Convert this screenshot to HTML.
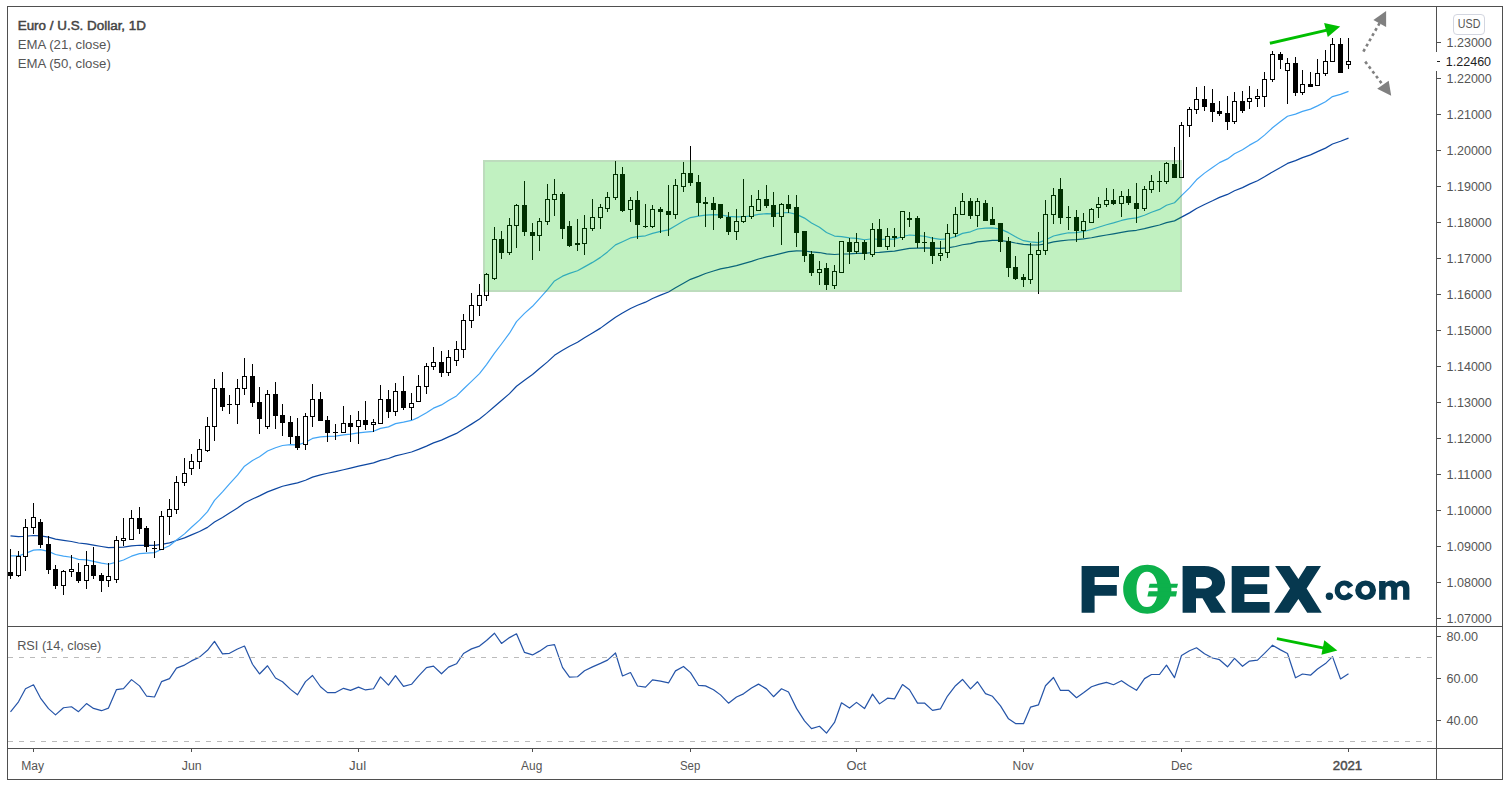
<!DOCTYPE html>
<html><head><meta charset="utf-8">
<style>
html,body{margin:0;padding:0;background:#fff;}
body{width:1510px;height:785px;overflow:hidden;position:relative;}
svg{position:absolute;left:0;top:0;}
text{font-family:"Liberation Sans",sans-serif;}
.ax{font-size:12px;fill:#555;}
.tm{font-size:12px;fill:#555;}
.tmb{font-size:12px;fill:#4a4a4a;stroke:#4a4a4a;stroke-width:0.45;}
.lg{font-size:12px;fill:#555;}
</style></head><body>
<svg width="1510" height="785" viewBox="0 0 1510 785" shape-rendering="crispEdges">
<rect x="0" y="0" width="1510" height="785" fill="#fff"/>
<!-- logo -->
<g id="logo" shape-rendering="geometricPrecision">
 <g fill="#06384f">
  <path d="M1081.6 566.1H1119V577H1094.6V585H1116.8V595.8H1094.6V612.7H1081.6Z"/>
  <path d="M1182.6 566.1H1204C1217 566.1 1225 573 1225 582.6C1225 589.5 1221.5 594.5 1215.5 597L1226 612.7H1211L1202.5 598.2H1196V612.7H1182.6ZM1196 577V588.6H1203.5C1209 588.6 1212 586 1212 582.8C1212 579.5 1209 577 1203.5 577Z"/>
  <path d="M1231.7 566.1H1269.3V577H1244.4V584.2H1267.2V594.1H1244.4V601.9H1269.6V612.7H1231.7Z"/>
  <path d="M1275.1 566.1H1289.6L1298.4 579L1306.6 566.1H1321L1306.6 588.6L1321.8 612.7H1307.2L1298.4 599L1289 612.7H1274.2L1290 588.6Z"/>
  <circle cx="1329.4" cy="596.2" r="3.7"/>
  <path d="M1353.2 585.6A9.9 9.8 0 1 0 1353.2 595.2L1348.1 592.3A4.3 4.8 0 1 1 1348.1 588.4Z"/>
  <path fill-rule="evenodd" d="M1365.6 580.5A10.4 9.8 0 1 1 1365.6 600.1A10.4 9.8 0 1 1 1365.6 580.5ZM1365.6 585.7A4.3 4.6 0 1 0 1365.6 594.9A4.3 4.6 0 1 0 1365.6 585.7Z"/>
  <path d="M1379.1 580.9H1385.5V583C1386.8 581.5 1388.8 580.5 1391 580.5C1393.5 580.5 1395.3 581.6 1396.3 583.2C1397.8 581.5 1400 580.5 1402.6 580.5C1407 580.5 1409.4 583.5 1409.4 588V599.8H1403.1V589C1403.1 586.9 1402.2 585.9 1400.3 585.9C1398.3 585.9 1397.2 587.2 1397.2 589.2V599.8H1391.2V589C1391.2 586.9 1390.3 585.9 1388.4 585.9C1386.4 585.9 1385.5 587.2 1385.5 589.2V599.8H1379.1Z"/>
 </g>
 <g fill="#0db14b">
  <path fill-rule="evenodd" d="M1147.3 564.8C1161 564.8 1171.4 575.8 1171.4 589.3C1171.4 602.8 1161 613.8 1147.3 613.8C1133.6 613.8 1123.2 602.8 1123.2 589.3C1123.2 575.8 1133.6 564.8 1147.3 564.8ZM1147 571.7C1140.5 571.7 1136.5 579 1136.5 589.4C1136.5 599.8 1140.5 607.1 1147 607.1C1153.5 607.1 1157.6 599.8 1157.6 589.4C1157.6 579 1153.5 571.7 1147 571.7Z"/>
  <path d="M1149.6 583.8H1178L1177 587.8H1148.6Z"/>
  <path d="M1148.6 591.3H1177L1176 596.6H1147.4Z"/>
 </g>
</g>
<g shape-rendering="geometricPrecision" fill="none" stroke-linejoin="round">
<polyline points="10.5,535.80 18.5,536.60 25.5,536.24 33.5,535.51 40.5,535.86 48.5,537.18 55.5,539.09 63.5,540.35 71.5,541.48 78.5,543.02 86.5,543.89 93.5,545.13 101.5,546.52 108.5,547.69 116.5,547.41 123.5,547.05 131.5,545.92 139.5,545.25 146.5,545.31 154.5,545.43 161.5,544.29 169.5,542.92 176.5,540.54 184.5,537.91 191.5,534.89 199.5,531.54 207.5,527.40 214.5,521.94 222.5,517.42 229.5,512.98 237.5,508.09 244.5,502.92 252.5,499.00 259.5,495.85 267.5,491.87 275.5,488.88 282.5,486.28 290.5,484.35 297.5,482.90 305.5,480.28 312.5,477.11 320.5,474.90 327.5,473.24 335.5,471.64 343.5,469.74 350.5,468.05 358.5,466.18 365.5,464.55 373.5,462.91 380.5,460.42 388.5,458.49 395.5,455.86 403.5,453.96 411.5,451.97 418.5,449.41 426.5,446.15 433.5,442.87 441.5,440.11 448.5,436.86 456.5,433.42 463.5,428.99 471.5,424.13 479.5,419.08 486.5,413.39 494.5,406.57 501.5,400.53 509.5,393.66 516.5,386.27 524.5,380.21 532.5,374.53 539.5,368.52 547.5,361.88 554.5,355.32 562.5,350.34 569.5,346.23 577.5,342.24 584.5,337.78 592.5,333.06 600.5,328.12 607.5,322.99 615.5,317.15 622.5,312.95 630.5,308.54 637.5,305.25 645.5,302.17 652.5,298.53 660.5,295.12 668.5,291.95 675.5,287.77 683.5,283.29 690.5,279.33 698.5,276.33 705.5,273.47 713.5,270.96 720.5,268.88 728.5,267.42 736.5,265.62 743.5,263.68 751.5,261.42 758.5,258.99 766.5,256.90 773.5,255.32 781.5,253.31 788.5,251.55 796.5,250.81 804.5,251.00 811.5,251.84 819.5,252.53 826.5,253.80 834.5,254.49 841.5,253.99 849.5,253.90 856.5,253.46 864.5,253.46 872.5,252.51 879.5,252.28 887.5,251.66 894.5,251.11 902.5,249.54 909.5,248.36 917.5,248.13 924.5,247.90 932.5,248.21 940.5,248.41 947.5,247.82 955.5,246.50 962.5,244.73 970.5,243.58 977.5,241.93 985.5,241.07 992.5,240.43 1000.5,240.47 1008.5,241.54 1015.5,243.00 1023.5,244.41 1030.5,244.79 1038.5,245.00 1045.5,243.80 1053.5,241.90 1060.5,240.94 1068.5,240.02 1076.5,239.65 1083.5,238.92 1091.5,237.75 1098.5,236.45 1106.5,235.03 1113.5,233.80 1121.5,232.33 1128.5,231.16 1136.5,230.28 1144.5,228.67 1151.5,226.81 1159.5,225.03 1166.5,222.62 1174.5,220.86 1181.5,217.10 1189.5,212.88 1196.5,208.43 1204.5,204.43 1212.5,200.79 1219.5,197.37 1227.5,194.41 1234.5,190.76 1242.5,187.63 1249.5,184.13 1257.5,180.69 1264.5,176.71 1272.5,171.92 1280.5,167.51 1287.5,163.43 1295.5,160.64 1302.5,157.66 1310.5,154.85 1317.5,151.65 1325.5,148.11 1332.5,144.04 1340.5,141.24 1348.5,138.11" stroke="#0d47a1" stroke-width="1.2"/>
<polyline points="10.5,555.90 18.5,555.94 25.5,553.34 33.5,550.08 40.5,549.58 48.5,551.40 55.5,554.52 63.5,556.04 71.5,557.24 78.5,559.36 86.5,559.89 93.5,561.33 101.5,563.08 108.5,564.27 116.5,562.11 123.5,559.96 131.5,556.17 139.5,553.67 146.5,553.04 154.5,552.63 161.5,549.33 169.5,545.69 176.5,539.92 184.5,533.87 191.5,527.25 199.5,520.17 207.5,511.62 214.5,500.40 222.5,491.87 229.5,483.91 237.5,475.21 244.5,466.22 252.5,460.45 259.5,456.67 267.5,451.00 275.5,447.79 282.5,445.50 290.5,444.72 297.5,444.97 305.5,442.35 312.5,438.44 320.5,436.83 327.5,436.44 335.5,436.08 343.5,434.91 350.5,434.17 358.5,432.91 365.5,432.16 373.5,431.28 380.5,428.38 388.5,426.83 395.5,423.61 403.5,422.15 411.5,420.43 418.5,417.35 426.5,412.72 433.5,408.15 441.5,404.91 448.5,400.58 456.5,395.90 463.5,389.03 471.5,381.40 479.5,373.57 486.5,364.53 494.5,353.16 501.5,344.00 509.5,333.23 516.5,321.59 524.5,313.41 532.5,306.32 539.5,298.59 547.5,289.56 554.5,280.92 562.5,276.16 569.5,273.35 577.5,270.74 584.5,266.90 592.5,262.39 600.5,257.37 607.5,251.92 615.5,244.84 622.5,241.68 630.5,237.92 637.5,236.71 645.5,235.80 652.5,233.40 660.5,231.41 668.5,229.86 675.5,225.82 683.5,221.06 690.5,217.55 698.5,216.19 705.5,215.04 713.5,214.54 720.5,214.84 728.5,216.37 736.5,216.83 743.5,216.77 751.5,215.81 758.5,214.32 766.5,213.54 773.5,213.81 781.5,212.92 788.5,212.52 796.5,214.35 804.5,218.10 811.5,223.04 819.5,227.27 826.5,232.50 834.5,236.03 841.5,236.57 849.5,237.94 856.5,238.36 864.5,239.74 872.5,238.77 879.5,239.49 887.5,239.21 894.5,239.08 902.5,236.53 909.5,234.98 917.5,235.67 924.5,236.27 932.5,238.04 940.5,239.43 947.5,238.87 955.5,236.63 962.5,233.41 970.5,231.79 977.5,229.02 985.5,228.22 992.5,227.89 1000.5,229.12 1008.5,232.64 1015.5,236.83 1023.5,240.67 1030.5,241.89 1038.5,242.64 1045.5,240.08 1053.5,236.00 1060.5,234.32 1068.5,232.78 1076.5,232.58 1083.5,231.53 1091.5,229.50 1098.5,227.22 1106.5,224.77 1113.5,222.85 1121.5,220.45 1128.5,218.82 1136.5,217.90 1144.5,215.28 1151.5,212.20 1159.5,209.40 1166.5,205.23 1174.5,202.72 1181.5,195.65 1189.5,187.82 1196.5,179.78 1204.5,173.13 1212.5,167.54 1219.5,162.63 1227.5,158.91 1234.5,153.69 1242.5,149.79 1249.5,145.13 1257.5,140.69 1264.5,135.11 1272.5,127.78 1280.5,121.57 1287.5,116.29 1295.5,114.11 1302.5,111.42 1310.5,109.11 1317.5,105.86 1325.5,101.81 1332.5,96.59 1340.5,94.41 1348.5,91.40" stroke="#42a5f5" stroke-width="1.2"/>
<polyline points="10.5,711.80 18.5,701.77 25.5,688.82 33.5,684.79 40.5,698.05 48.5,708.67 55.5,714.84 63.5,707.77 71.5,706.74 78.5,711.67 86.5,703.61 93.5,708.44 101.5,710.69 108.5,708.10 116.5,689.56 123.5,688.59 131.5,679.60 139.5,685.88 146.5,696.03 154.5,697.02 161.5,681.64 169.5,678.64 176.5,668.18 184.5,665.10 191.5,660.90 199.5,657.14 207.5,650.30 214.5,641.33 222.5,653.90 229.5,653.28 237.5,649.03 244.5,646.07 252.5,664.24 259.5,673.97 267.5,665.77 275.5,677.98 282.5,681.73 290.5,689.35 297.5,694.78 305.5,681.59 312.5,675.49 320.5,686.76 327.5,692.63 335.5,692.55 343.5,688.33 350.5,690.38 358.5,687.17 365.5,689.95 373.5,688.74 380.5,676.93 388.5,685.18 395.5,675.67 403.5,686.40 411.5,684.29 418.5,676.19 426.5,667.68 433.5,666.12 441.5,673.77 448.5,667.16 456.5,663.80 463.5,653.47 471.5,648.87 479.5,646.07 486.5,640.54 494.5,633.22 501.5,643.41 509.5,637.60 516.5,633.81 524.5,652.41 532.5,654.94 539.5,651.15 547.5,645.75 554.5,644.62 562.5,667.38 569.5,677.03 577.5,676.76 584.5,670.78 592.5,666.84 600.5,663.38 607.5,660.10 615.5,652.96 622.5,675.99 630.5,672.56 637.5,686.03 645.5,687.15 652.5,679.94 660.5,681.19 668.5,682.94 675.5,670.87 683.5,666.43 690.5,672.61 698.5,685.29 705.5,685.84 713.5,689.70 720.5,694.87 728.5,703.20 736.5,696.95 743.5,693.85 751.5,687.98 758.5,684.11 766.5,688.86 773.5,696.72 781.5,688.76 788.5,692.08 796.5,708.38 804.5,720.83 811.5,728.61 819.5,726.25 826.5,733.09 834.5,722.48 841.5,702.80 849.5,708.07 856.5,702.38 864.5,708.59 872.5,694.11 879.5,703.88 887.5,698.14 894.5,698.85 902.5,684.52 909.5,689.79 917.5,703.16 924.5,702.99 932.5,710.32 940.5,708.79 947.5,696.05 955.5,685.74 962.5,679.43 970.5,688.85 977.5,681.78 985.5,693.64 992.5,696.28 1000.5,705.91 1008.5,718.81 1015.5,723.56 1023.5,723.65 1030.5,707.17 1038.5,704.80 1045.5,685.77 1053.5,677.49 1060.5,690.42 1068.5,690.27 1076.5,697.74 1083.5,692.77 1091.5,686.78 1098.5,684.40 1106.5,682.31 1113.5,684.71 1121.5,680.71 1128.5,685.57 1136.5,690.31 1144.5,678.63 1151.5,674.50 1159.5,674.50 1166.5,665.14 1174.5,677.65 1181.5,655.50 1189.5,650.74 1196.5,647.81 1204.5,653.78 1212.5,657.96 1219.5,659.69 1227.5,666.77 1234.5,658.33 1242.5,666.28 1249.5,661.09 1257.5,660.17 1264.5,653.42 1272.5,645.23 1280.5,649.86 1287.5,653.56 1295.5,677.78 1302.5,674.01 1310.5,675.20 1317.5,668.98 1325.5,663.60 1332.5,656.65 1340.5,679.00 1348.5,673.86" stroke="#2554a8" stroke-width="1.2"/>
</g>
<g fill="#000"><rect x="10" y="549" width="1" height="30"/><rect x="8" y="572" width="5" height="4"/><rect x="18" y="551" width="1" height="26"/><rect x="16" y="556" width="5" height="20"/><rect x="17" y="557" width="3" height="18" fill="#fff"/><rect x="25" y="519" width="1" height="52"/><rect x="23" y="527" width="5" height="30"/><rect x="24" y="528" width="3" height="28" fill="#fff"/><rect x="33" y="503" width="1" height="31"/><rect x="31" y="517" width="5" height="11"/><rect x="32" y="518" width="3" height="9" fill="#fff"/><rect x="40" y="519" width="1" height="29"/><rect x="38" y="522" width="5" height="23"/><rect x="48" y="536" width="1" height="38"/><rect x="46" y="544" width="5" height="26"/><rect x="55" y="565" width="1" height="24"/><rect x="53" y="569" width="5" height="17"/><rect x="63" y="570" width="1" height="25"/><rect x="61" y="571" width="5" height="15"/><rect x="62" y="572" width="3" height="13" fill="#fff"/><rect x="71" y="555" width="1" height="22"/><rect x="69" y="569" width="5" height="3"/><rect x="70" y="570" width="3" height="1" fill="#fff"/><rect x="78" y="563" width="1" height="20"/><rect x="76" y="572" width="5" height="9"/><rect x="86" y="551" width="1" height="38"/><rect x="84" y="565" width="5" height="16"/><rect x="85" y="566" width="3" height="14" fill="#fff"/><rect x="93" y="547" width="1" height="32"/><rect x="91" y="565" width="5" height="11"/><rect x="101" y="573" width="1" height="19"/><rect x="99" y="575" width="5" height="6"/><rect x="108" y="563" width="1" height="24"/><rect x="106" y="576" width="5" height="5"/><rect x="107" y="577" width="3" height="3" fill="#fff"/><rect x="116" y="536" width="1" height="47"/><rect x="114" y="540" width="5" height="40"/><rect x="115" y="541" width="3" height="38" fill="#fff"/><rect x="123" y="518" width="1" height="28"/><rect x="121" y="538" width="5" height="3"/><rect x="122" y="539" width="3" height="1" fill="#fff"/><rect x="131" y="510" width="1" height="30"/><rect x="129" y="518" width="5" height="22"/><rect x="130" y="519" width="3" height="20" fill="#fff"/><rect x="139" y="507" width="1" height="27"/><rect x="137" y="518" width="5" height="11"/><rect x="146" y="526" width="1" height="26"/><rect x="144" y="528" width="5" height="19"/><rect x="154" y="541" width="1" height="17"/><rect x="152" y="548" width="5" height="1"/><rect x="161" y="511" width="1" height="39"/><rect x="159" y="516" width="5" height="34"/><rect x="160" y="517" width="3" height="32" fill="#fff"/><rect x="169" y="499" width="1" height="36"/><rect x="167" y="509" width="5" height="8"/><rect x="168" y="510" width="3" height="6" fill="#fff"/><rect x="176" y="476" width="1" height="38"/><rect x="174" y="482" width="5" height="28"/><rect x="175" y="483" width="3" height="26" fill="#fff"/><rect x="184" y="458" width="1" height="28"/><rect x="182" y="473" width="5" height="10"/><rect x="183" y="474" width="3" height="8" fill="#fff"/><rect x="191" y="454" width="1" height="21"/><rect x="189" y="461" width="5" height="8"/><rect x="190" y="462" width="3" height="6" fill="#fff"/><rect x="199" y="439" width="1" height="30"/><rect x="197" y="449" width="5" height="13"/><rect x="198" y="450" width="3" height="11" fill="#fff"/><rect x="207" y="417" width="1" height="35"/><rect x="205" y="426" width="5" height="25"/><rect x="206" y="427" width="3" height="23" fill="#fff"/><rect x="214" y="379" width="1" height="62"/><rect x="212" y="388" width="5" height="39"/><rect x="213" y="389" width="3" height="37" fill="#fff"/><rect x="222" y="372" width="1" height="39"/><rect x="220" y="388" width="5" height="19"/><rect x="229" y="395" width="1" height="19"/><rect x="227" y="404" width="5" height="1"/><rect x="237" y="379" width="1" height="45"/><rect x="235" y="388" width="5" height="17"/><rect x="236" y="389" width="3" height="15" fill="#fff"/><rect x="244" y="358" width="1" height="37"/><rect x="242" y="376" width="5" height="13"/><rect x="243" y="377" width="3" height="11" fill="#fff"/><rect x="252" y="364" width="1" height="43"/><rect x="250" y="376" width="5" height="27"/><rect x="259" y="387" width="1" height="47"/><rect x="257" y="402" width="5" height="17"/><rect x="267" y="390" width="1" height="39"/><rect x="265" y="394" width="5" height="33"/><rect x="266" y="395" width="3" height="31" fill="#fff"/><rect x="275" y="382" width="1" height="47"/><rect x="273" y="394" width="5" height="22"/><rect x="282" y="404" width="1" height="32"/><rect x="280" y="415" width="5" height="8"/><rect x="290" y="416" width="1" height="28"/><rect x="288" y="422" width="5" height="15"/><rect x="297" y="418" width="1" height="32"/><rect x="295" y="436" width="5" height="12"/><rect x="305" y="413" width="1" height="37"/><rect x="303" y="416" width="5" height="29"/><rect x="304" y="417" width="3" height="27" fill="#fff"/><rect x="312" y="384" width="1" height="43"/><rect x="310" y="399" width="5" height="18"/><rect x="311" y="400" width="3" height="16" fill="#fff"/><rect x="320" y="392" width="1" height="29"/><rect x="318" y="399" width="5" height="22"/><rect x="327" y="416" width="1" height="26"/><rect x="325" y="420" width="5" height="13"/><rect x="335" y="424" width="1" height="16"/><rect x="333" y="432" width="5" height="1"/><rect x="343" y="406" width="1" height="27"/><rect x="341" y="423" width="5" height="10"/><rect x="342" y="424" width="3" height="8" fill="#fff"/><rect x="350" y="415" width="1" height="27"/><rect x="348" y="423" width="5" height="4"/><rect x="358" y="411" width="1" height="33"/><rect x="356" y="420" width="5" height="7"/><rect x="357" y="421" width="3" height="5" fill="#fff"/><rect x="365" y="401" width="1" height="29"/><rect x="363" y="420" width="5" height="5"/><rect x="373" y="419" width="1" height="13"/><rect x="371" y="422" width="5" height="3"/><rect x="372" y="423" width="3" height="1" fill="#fff"/><rect x="380" y="385" width="1" height="39"/><rect x="378" y="399" width="5" height="25"/><rect x="379" y="400" width="3" height="23" fill="#fff"/><rect x="388" y="390" width="1" height="28"/><rect x="386" y="399" width="5" height="13"/><rect x="395" y="383" width="1" height="33"/><rect x="393" y="391" width="5" height="21"/><rect x="394" y="392" width="3" height="19" fill="#fff"/><rect x="403" y="376" width="1" height="34"/><rect x="401" y="391" width="5" height="17"/><rect x="411" y="393" width="1" height="27"/><rect x="409" y="403" width="5" height="5"/><rect x="410" y="404" width="3" height="3" fill="#fff"/><rect x="418" y="375" width="1" height="27"/><rect x="416" y="386" width="5" height="16"/><rect x="417" y="387" width="3" height="14" fill="#fff"/><rect x="426" y="363" width="1" height="31"/><rect x="424" y="366" width="5" height="21"/><rect x="425" y="367" width="3" height="19" fill="#fff"/><rect x="433" y="347" width="1" height="23"/><rect x="431" y="362" width="5" height="5"/><rect x="432" y="363" width="3" height="3" fill="#fff"/><rect x="441" y="351" width="1" height="26"/><rect x="439" y="362" width="5" height="11"/><rect x="448" y="350" width="1" height="26"/><rect x="446" y="357" width="5" height="16"/><rect x="447" y="358" width="3" height="14" fill="#fff"/><rect x="456" y="341" width="1" height="25"/><rect x="454" y="349" width="5" height="12"/><rect x="455" y="350" width="3" height="10" fill="#fff"/><rect x="463" y="314" width="1" height="44"/><rect x="461" y="320" width="5" height="30"/><rect x="462" y="321" width="3" height="28" fill="#fff"/><rect x="471" y="293" width="1" height="35"/><rect x="469" y="305" width="5" height="16"/><rect x="470" y="306" width="3" height="14" fill="#fff"/><rect x="479" y="284" width="1" height="32"/><rect x="477" y="295" width="5" height="11"/><rect x="478" y="296" width="3" height="9" fill="#fff"/><rect x="486" y="273" width="1" height="28"/><rect x="484" y="274" width="5" height="22"/><rect x="485" y="275" width="3" height="20" fill="#fff"/><rect x="494" y="227" width="1" height="53"/><rect x="492" y="239" width="5" height="40"/><rect x="493" y="240" width="3" height="38" fill="#fff"/><rect x="501" y="231" width="1" height="28"/><rect x="499" y="239" width="5" height="14"/><rect x="509" y="218" width="1" height="37"/><rect x="507" y="225" width="5" height="28"/><rect x="508" y="226" width="3" height="26" fill="#fff"/><rect x="516" y="204" width="1" height="44"/><rect x="514" y="205" width="5" height="21"/><rect x="515" y="206" width="3" height="19" fill="#fff"/><rect x="524" y="181" width="1" height="55"/><rect x="522" y="205" width="5" height="27"/><rect x="532" y="223" width="1" height="37"/><rect x="530" y="232" width="5" height="4"/><rect x="539" y="218" width="1" height="33"/><rect x="537" y="221" width="5" height="15"/><rect x="538" y="222" width="3" height="13" fill="#fff"/><rect x="547" y="184" width="1" height="41"/><rect x="545" y="199" width="5" height="23"/><rect x="546" y="200" width="3" height="21" fill="#fff"/><rect x="554" y="179" width="1" height="37"/><rect x="552" y="194" width="5" height="6"/><rect x="553" y="195" width="3" height="4" fill="#fff"/><rect x="562" y="192" width="1" height="47"/><rect x="560" y="194" width="5" height="35"/><rect x="569" y="221" width="1" height="26"/><rect x="567" y="226" width="5" height="20"/><rect x="577" y="219" width="1" height="32"/><rect x="575" y="243" width="5" height="2"/><rect x="584" y="215" width="1" height="40"/><rect x="582" y="228" width="5" height="16"/><rect x="583" y="229" width="3" height="14" fill="#fff"/><rect x="592" y="199" width="1" height="32"/><rect x="590" y="217" width="5" height="12"/><rect x="591" y="218" width="3" height="10" fill="#fff"/><rect x="600" y="204" width="1" height="25"/><rect x="598" y="207" width="5" height="11"/><rect x="599" y="208" width="3" height="9" fill="#fff"/><rect x="607" y="192" width="1" height="20"/><rect x="605" y="197" width="5" height="12"/><rect x="606" y="198" width="3" height="10" fill="#fff"/><rect x="615" y="161" width="1" height="39"/><rect x="613" y="174" width="5" height="24"/><rect x="614" y="175" width="3" height="22" fill="#fff"/><rect x="622" y="167" width="1" height="45"/><rect x="620" y="174" width="5" height="37"/><rect x="630" y="197" width="1" height="25"/><rect x="628" y="200" width="5" height="10"/><rect x="629" y="201" width="3" height="8" fill="#fff"/><rect x="637" y="191" width="1" height="48"/><rect x="635" y="200" width="5" height="25"/><rect x="645" y="204" width="1" height="24"/><rect x="643" y="226" width="5" height="1"/><rect x="652" y="205" width="1" height="23"/><rect x="650" y="209" width="5" height="18"/><rect x="651" y="210" width="3" height="16" fill="#fff"/><rect x="660" y="207" width="1" height="26"/><rect x="658" y="209" width="5" height="3"/><rect x="668" y="185" width="1" height="51"/><rect x="666" y="211" width="5" height="4"/><rect x="675" y="179" width="1" height="40"/><rect x="673" y="185" width="5" height="30"/><rect x="674" y="186" width="3" height="28" fill="#fff"/><rect x="683" y="162" width="1" height="30"/><rect x="681" y="173" width="5" height="14"/><rect x="682" y="174" width="3" height="12" fill="#fff"/><rect x="690" y="146" width="1" height="40"/><rect x="688" y="173" width="5" height="10"/><rect x="698" y="175" width="1" height="41"/><rect x="696" y="182" width="5" height="21"/><rect x="705" y="197" width="1" height="30"/><rect x="703" y="202" width="5" height="2"/><rect x="713" y="197" width="1" height="33"/><rect x="711" y="203" width="5" height="7"/><rect x="720" y="204" width="1" height="15"/><rect x="718" y="204" width="5" height="14"/><rect x="728" y="212" width="1" height="23"/><rect x="726" y="217" width="5" height="15"/><rect x="736" y="209" width="1" height="31"/><rect x="734" y="221" width="5" height="11"/><rect x="735" y="222" width="3" height="9" fill="#fff"/><rect x="743" y="179" width="1" height="44"/><rect x="741" y="216" width="5" height="6"/><rect x="742" y="217" width="3" height="4" fill="#fff"/><rect x="751" y="195" width="1" height="24"/><rect x="749" y="206" width="5" height="11"/><rect x="750" y="207" width="3" height="9" fill="#fff"/><rect x="758" y="190" width="1" height="21"/><rect x="756" y="199" width="5" height="12"/><rect x="757" y="200" width="3" height="10" fill="#fff"/><rect x="766" y="185" width="1" height="23"/><rect x="764" y="199" width="5" height="7"/><rect x="773" y="192" width="1" height="35"/><rect x="771" y="205" width="5" height="12"/><rect x="781" y="203" width="1" height="42"/><rect x="779" y="204" width="5" height="13"/><rect x="780" y="205" width="3" height="11" fill="#fff"/><rect x="788" y="195" width="1" height="18"/><rect x="786" y="204" width="5" height="5"/><rect x="796" y="195" width="1" height="52"/><rect x="794" y="207" width="5" height="26"/><rect x="804" y="231" width="1" height="31"/><rect x="802" y="231" width="5" height="25"/><rect x="811" y="251" width="1" height="25"/><rect x="809" y="254" width="5" height="19"/><rect x="819" y="261" width="1" height="24"/><rect x="817" y="269" width="5" height="4"/><rect x="818" y="270" width="3" height="2" fill="#fff"/><rect x="826" y="263" width="1" height="27"/><rect x="824" y="268" width="5" height="17"/><rect x="834" y="265" width="1" height="24"/><rect x="832" y="271" width="5" height="15"/><rect x="833" y="272" width="3" height="13" fill="#fff"/><rect x="841" y="241" width="1" height="32"/><rect x="839" y="241" width="5" height="32"/><rect x="840" y="242" width="3" height="30" fill="#fff"/><rect x="849" y="238" width="1" height="26"/><rect x="847" y="242" width="5" height="10"/><rect x="856" y="233" width="1" height="21"/><rect x="854" y="242" width="5" height="10"/><rect x="855" y="243" width="3" height="8" fill="#fff"/><rect x="864" y="240" width="1" height="20"/><rect x="862" y="242" width="5" height="12"/><rect x="872" y="223" width="1" height="34"/><rect x="870" y="229" width="5" height="26"/><rect x="871" y="230" width="3" height="24" fill="#fff"/><rect x="879" y="219" width="1" height="28"/><rect x="877" y="229" width="5" height="18"/><rect x="887" y="228" width="1" height="22"/><rect x="885" y="236" width="5" height="11"/><rect x="886" y="237" width="3" height="9" fill="#fff"/><rect x="894" y="228" width="1" height="19"/><rect x="892" y="236" width="5" height="2"/><rect x="902" y="211" width="1" height="29"/><rect x="900" y="211" width="5" height="27"/><rect x="901" y="212" width="3" height="25" fill="#fff"/><rect x="909" y="212" width="1" height="15"/><rect x="907" y="218" width="5" height="2"/><rect x="917" y="216" width="1" height="32"/><rect x="915" y="218" width="5" height="25"/><rect x="924" y="232" width="1" height="20"/><rect x="922" y="242" width="5" height="1"/><rect x="932" y="237" width="1" height="27"/><rect x="930" y="242" width="5" height="14"/><rect x="940" y="241" width="1" height="20"/><rect x="938" y="253" width="5" height="3"/><rect x="939" y="254" width="3" height="1" fill="#fff"/><rect x="947" y="224" width="1" height="34"/><rect x="945" y="233" width="5" height="20"/><rect x="946" y="234" width="3" height="18" fill="#fff"/><rect x="955" y="207" width="1" height="30"/><rect x="953" y="214" width="5" height="20"/><rect x="954" y="215" width="3" height="18" fill="#fff"/><rect x="962" y="193" width="1" height="22"/><rect x="960" y="201" width="5" height="14"/><rect x="961" y="202" width="3" height="12" fill="#fff"/><rect x="970" y="198" width="1" height="21"/><rect x="968" y="201" width="5" height="15"/><rect x="977" y="198" width="1" height="29"/><rect x="975" y="201" width="5" height="15"/><rect x="976" y="202" width="3" height="13" fill="#fff"/><rect x="985" y="200" width="1" height="21"/><rect x="983" y="203" width="5" height="18"/><rect x="992" y="207" width="1" height="18"/><rect x="990" y="219" width="5" height="6"/><rect x="1000" y="223" width="1" height="29"/><rect x="998" y="223" width="5" height="19"/><rect x="1008" y="237" width="1" height="40"/><rect x="1006" y="241" width="5" height="27"/><rect x="1015" y="256" width="1" height="24"/><rect x="1013" y="267" width="5" height="12"/><rect x="1023" y="274" width="1" height="13"/><rect x="1021" y="277" width="5" height="3"/><rect x="1030" y="243" width="1" height="41"/><rect x="1028" y="254" width="5" height="26"/><rect x="1029" y="255" width="3" height="24" fill="#fff"/><rect x="1038" y="232" width="1" height="62"/><rect x="1036" y="250" width="5" height="5"/><rect x="1037" y="251" width="3" height="3" fill="#fff"/><rect x="1045" y="200" width="1" height="55"/><rect x="1043" y="214" width="5" height="37"/><rect x="1044" y="215" width="3" height="35" fill="#fff"/><rect x="1053" y="188" width="1" height="36"/><rect x="1051" y="195" width="5" height="20"/><rect x="1052" y="196" width="3" height="18" fill="#fff"/><rect x="1060" y="178" width="1" height="46"/><rect x="1058" y="189" width="5" height="29"/><rect x="1068" y="206" width="1" height="24"/><rect x="1066" y="217" width="5" height="1"/><rect x="1076" y="210" width="1" height="32"/><rect x="1074" y="217" width="5" height="14"/><rect x="1083" y="213" width="1" height="25"/><rect x="1081" y="221" width="5" height="10"/><rect x="1082" y="222" width="3" height="8" fill="#fff"/><rect x="1091" y="208" width="1" height="15"/><rect x="1089" y="209" width="5" height="14"/><rect x="1090" y="210" width="3" height="12" fill="#fff"/><rect x="1098" y="197" width="1" height="21"/><rect x="1096" y="204" width="5" height="4"/><rect x="1097" y="205" width="3" height="2" fill="#fff"/><rect x="1106" y="188" width="1" height="19"/><rect x="1104" y="200" width="5" height="5"/><rect x="1105" y="201" width="3" height="3" fill="#fff"/><rect x="1113" y="189" width="1" height="16"/><rect x="1111" y="200" width="5" height="4"/><rect x="1121" y="191" width="1" height="26"/><rect x="1119" y="196" width="5" height="8"/><rect x="1120" y="197" width="3" height="6" fill="#fff"/><rect x="1128" y="189" width="1" height="16"/><rect x="1126" y="196" width="5" height="7"/><rect x="1136" y="183" width="1" height="40"/><rect x="1134" y="203" width="5" height="6"/><rect x="1144" y="186" width="1" height="25"/><rect x="1142" y="189" width="5" height="20"/><rect x="1143" y="190" width="3" height="18" fill="#fff"/><rect x="1151" y="175" width="1" height="18"/><rect x="1149" y="181" width="5" height="9"/><rect x="1150" y="182" width="3" height="7" fill="#fff"/><rect x="1159" y="171" width="1" height="21"/><rect x="1157" y="181" width="5" height="1"/><rect x="1166" y="162" width="1" height="22"/><rect x="1164" y="163" width="5" height="19"/><rect x="1165" y="164" width="3" height="17" fill="#fff"/><rect x="1174" y="147" width="1" height="31"/><rect x="1172" y="164" width="5" height="14"/><rect x="1181" y="122" width="1" height="56"/><rect x="1179" y="125" width="5" height="53"/><rect x="1180" y="126" width="3" height="51" fill="#fff"/><rect x="1189" y="107" width="1" height="30"/><rect x="1187" y="109" width="5" height="17"/><rect x="1188" y="110" width="3" height="15" fill="#fff"/><rect x="1196" y="87" width="1" height="27"/><rect x="1194" y="99" width="5" height="11"/><rect x="1195" y="100" width="3" height="9" fill="#fff"/><rect x="1204" y="86" width="1" height="25"/><rect x="1202" y="99" width="5" height="8"/><rect x="1212" y="89" width="1" height="33"/><rect x="1210" y="103" width="5" height="9"/><rect x="1219" y="101" width="1" height="15"/><rect x="1217" y="111" width="5" height="3"/><rect x="1227" y="96" width="1" height="34"/><rect x="1225" y="113" width="5" height="9"/><rect x="1234" y="92" width="1" height="32"/><rect x="1232" y="101" width="5" height="21"/><rect x="1233" y="102" width="3" height="19" fill="#fff"/><rect x="1242" y="91" width="1" height="22"/><rect x="1240" y="101" width="5" height="10"/><rect x="1249" y="86" width="1" height="23"/><rect x="1247" y="98" width="5" height="4"/><rect x="1248" y="99" width="3" height="2" fill="#fff"/><rect x="1257" y="89" width="1" height="18"/><rect x="1255" y="96" width="5" height="3"/><rect x="1256" y="97" width="3" height="1" fill="#fff"/><rect x="1264" y="72" width="1" height="35"/><rect x="1262" y="79" width="5" height="18"/><rect x="1263" y="80" width="3" height="16" fill="#fff"/><rect x="1272" y="51" width="1" height="31"/><rect x="1270" y="54" width="5" height="26"/><rect x="1271" y="55" width="3" height="24" fill="#fff"/><rect x="1280" y="52" width="1" height="17"/><rect x="1278" y="54" width="5" height="6"/><rect x="1287" y="58" width="1" height="46"/><rect x="1285" y="63" width="5" height="8"/><rect x="1286" y="64" width="3" height="6" fill="#fff"/><rect x="1295" y="57" width="1" height="39"/><rect x="1293" y="63" width="5" height="30"/><rect x="1302" y="70" width="1" height="25"/><rect x="1300" y="84" width="5" height="9"/><rect x="1301" y="85" width="3" height="7" fill="#fff"/><rect x="1310" y="72" width="1" height="15"/><rect x="1308" y="84" width="5" height="3"/><rect x="1317" y="59" width="1" height="27"/><rect x="1315" y="73" width="5" height="13"/><rect x="1316" y="74" width="3" height="11" fill="#fff"/><rect x="1325" y="50" width="1" height="26"/><rect x="1323" y="61" width="5" height="13"/><rect x="1324" y="62" width="3" height="11" fill="#fff"/><rect x="1332" y="38" width="1" height="24"/><rect x="1330" y="44" width="5" height="18"/><rect x="1331" y="45" width="3" height="16" fill="#fff"/><rect x="1340" y="38" width="1" height="35"/><rect x="1338" y="44" width="5" height="29"/><rect x="1348" y="38" width="1" height="31"/><rect x="1346" y="61" width="5" height="4"/><rect x="1347" y="62" width="3" height="2" fill="#fff"/></g>
<!-- box -->
<rect x="485" y="162" width="695" height="128" fill="rgba(0,196,0,0.243)"/>
<path d="M483 160H1182V292H483ZM485 162V290H1180V162Z" fill="rgba(38,138,38,0.3)" fill-rule="evenodd"/>
<!-- arrows -->
<g shape-rendering="geometricPrecision">
<line x1="1269.9" y1="43.3" x2="1327" y2="30.1" stroke="#00be00" stroke-width="3"/>
<path d="M1340.2 26.4L1324.1 23.1L1327.8 37Z" fill="#00be00"/>
<line x1="1276.9" y1="638.6" x2="1324" y2="648.1" stroke="#00be00" stroke-width="3"/>
<path d="M1337.3 650.5L1324.3 640.3L1321.4 654.8Z" fill="#00be00"/>
<line x1="1363.35" y1="51.6" x2="1379.55" y2="23.1" stroke="#808080" stroke-width="2.6" stroke-dasharray="3 3"/>
<path d="M1386.1 11.1L1373.4 20L1386.1 26.9Z" fill="#808080"/>
<line x1="1365.2" y1="61.6" x2="1381.5" y2="83.1" stroke="#808080" stroke-width="2.6" stroke-dasharray="3 3"/>
<path d="M1391.2 95.7L1377.2 88.8L1388.7 80.8Z" fill="#808080"/>
</g>
<g fill="#bbbbbb"><rect x="8" y="657" width="5" height="1"/><rect x="19" y="657" width="5" height="1"/><rect x="30" y="657" width="5" height="1"/><rect x="41" y="657" width="5" height="1"/><rect x="52" y="657" width="5" height="1"/><rect x="63" y="657" width="5" height="1"/><rect x="74" y="657" width="5" height="1"/><rect x="85" y="657" width="5" height="1"/><rect x="96" y="657" width="5" height="1"/><rect x="107" y="657" width="5" height="1"/><rect x="118" y="657" width="5" height="1"/><rect x="129" y="657" width="5" height="1"/><rect x="140" y="657" width="5" height="1"/><rect x="151" y="657" width="5" height="1"/><rect x="162" y="657" width="5" height="1"/><rect x="173" y="657" width="5" height="1"/><rect x="184" y="657" width="5" height="1"/><rect x="195" y="657" width="5" height="1"/><rect x="206" y="657" width="5" height="1"/><rect x="217" y="657" width="5" height="1"/><rect x="228" y="657" width="5" height="1"/><rect x="239" y="657" width="5" height="1"/><rect x="250" y="657" width="5" height="1"/><rect x="261" y="657" width="5" height="1"/><rect x="272" y="657" width="5" height="1"/><rect x="283" y="657" width="5" height="1"/><rect x="294" y="657" width="5" height="1"/><rect x="305" y="657" width="5" height="1"/><rect x="316" y="657" width="5" height="1"/><rect x="327" y="657" width="5" height="1"/><rect x="338" y="657" width="5" height="1"/><rect x="349" y="657" width="5" height="1"/><rect x="360" y="657" width="5" height="1"/><rect x="371" y="657" width="5" height="1"/><rect x="382" y="657" width="5" height="1"/><rect x="393" y="657" width="5" height="1"/><rect x="404" y="657" width="5" height="1"/><rect x="415" y="657" width="5" height="1"/><rect x="426" y="657" width="5" height="1"/><rect x="437" y="657" width="5" height="1"/><rect x="448" y="657" width="5" height="1"/><rect x="459" y="657" width="5" height="1"/><rect x="470" y="657" width="5" height="1"/><rect x="481" y="657" width="5" height="1"/><rect x="492" y="657" width="5" height="1"/><rect x="503" y="657" width="5" height="1"/><rect x="514" y="657" width="5" height="1"/><rect x="525" y="657" width="5" height="1"/><rect x="536" y="657" width="5" height="1"/><rect x="547" y="657" width="5" height="1"/><rect x="558" y="657" width="5" height="1"/><rect x="569" y="657" width="5" height="1"/><rect x="580" y="657" width="5" height="1"/><rect x="591" y="657" width="5" height="1"/><rect x="602" y="657" width="5" height="1"/><rect x="613" y="657" width="5" height="1"/><rect x="624" y="657" width="5" height="1"/><rect x="635" y="657" width="5" height="1"/><rect x="646" y="657" width="5" height="1"/><rect x="657" y="657" width="5" height="1"/><rect x="668" y="657" width="5" height="1"/><rect x="679" y="657" width="5" height="1"/><rect x="690" y="657" width="5" height="1"/><rect x="701" y="657" width="5" height="1"/><rect x="712" y="657" width="5" height="1"/><rect x="723" y="657" width="5" height="1"/><rect x="734" y="657" width="5" height="1"/><rect x="745" y="657" width="5" height="1"/><rect x="756" y="657" width="5" height="1"/><rect x="767" y="657" width="5" height="1"/><rect x="778" y="657" width="5" height="1"/><rect x="789" y="657" width="5" height="1"/><rect x="800" y="657" width="5" height="1"/><rect x="811" y="657" width="5" height="1"/><rect x="822" y="657" width="5" height="1"/><rect x="833" y="657" width="5" height="1"/><rect x="844" y="657" width="5" height="1"/><rect x="855" y="657" width="5" height="1"/><rect x="866" y="657" width="5" height="1"/><rect x="877" y="657" width="5" height="1"/><rect x="888" y="657" width="5" height="1"/><rect x="899" y="657" width="5" height="1"/><rect x="910" y="657" width="5" height="1"/><rect x="921" y="657" width="5" height="1"/><rect x="932" y="657" width="5" height="1"/><rect x="943" y="657" width="5" height="1"/><rect x="954" y="657" width="5" height="1"/><rect x="965" y="657" width="5" height="1"/><rect x="976" y="657" width="5" height="1"/><rect x="987" y="657" width="5" height="1"/><rect x="998" y="657" width="5" height="1"/><rect x="1009" y="657" width="5" height="1"/><rect x="1020" y="657" width="5" height="1"/><rect x="1031" y="657" width="5" height="1"/><rect x="1042" y="657" width="5" height="1"/><rect x="1053" y="657" width="5" height="1"/><rect x="1064" y="657" width="5" height="1"/><rect x="1075" y="657" width="5" height="1"/><rect x="1086" y="657" width="5" height="1"/><rect x="1097" y="657" width="5" height="1"/><rect x="1108" y="657" width="5" height="1"/><rect x="1119" y="657" width="5" height="1"/><rect x="1130" y="657" width="5" height="1"/><rect x="1141" y="657" width="5" height="1"/><rect x="1152" y="657" width="5" height="1"/><rect x="1163" y="657" width="5" height="1"/><rect x="1174" y="657" width="5" height="1"/><rect x="1185" y="657" width="5" height="1"/><rect x="1196" y="657" width="5" height="1"/><rect x="1207" y="657" width="5" height="1"/><rect x="1218" y="657" width="5" height="1"/><rect x="1229" y="657" width="5" height="1"/><rect x="1240" y="657" width="5" height="1"/><rect x="1251" y="657" width="5" height="1"/><rect x="1262" y="657" width="5" height="1"/><rect x="1273" y="657" width="5" height="1"/><rect x="1284" y="657" width="5" height="1"/><rect x="1295" y="657" width="5" height="1"/><rect x="1306" y="657" width="5" height="1"/><rect x="1317" y="657" width="5" height="1"/><rect x="1328" y="657" width="5" height="1"/><rect x="1339" y="657" width="5" height="1"/><rect x="1350" y="657" width="5" height="1"/><rect x="1361" y="657" width="5" height="1"/><rect x="1372" y="657" width="5" height="1"/><rect x="1383" y="657" width="5" height="1"/><rect x="1394" y="657" width="5" height="1"/><rect x="1405" y="657" width="5" height="1"/><rect x="1416" y="657" width="5" height="1"/><rect x="1427" y="657" width="5" height="1"/><rect x="8" y="741" width="5" height="1"/><rect x="19" y="741" width="5" height="1"/><rect x="30" y="741" width="5" height="1"/><rect x="41" y="741" width="5" height="1"/><rect x="52" y="741" width="5" height="1"/><rect x="63" y="741" width="5" height="1"/><rect x="74" y="741" width="5" height="1"/><rect x="85" y="741" width="5" height="1"/><rect x="96" y="741" width="5" height="1"/><rect x="107" y="741" width="5" height="1"/><rect x="118" y="741" width="5" height="1"/><rect x="129" y="741" width="5" height="1"/><rect x="140" y="741" width="5" height="1"/><rect x="151" y="741" width="5" height="1"/><rect x="162" y="741" width="5" height="1"/><rect x="173" y="741" width="5" height="1"/><rect x="184" y="741" width="5" height="1"/><rect x="195" y="741" width="5" height="1"/><rect x="206" y="741" width="5" height="1"/><rect x="217" y="741" width="5" height="1"/><rect x="228" y="741" width="5" height="1"/><rect x="239" y="741" width="5" height="1"/><rect x="250" y="741" width="5" height="1"/><rect x="261" y="741" width="5" height="1"/><rect x="272" y="741" width="5" height="1"/><rect x="283" y="741" width="5" height="1"/><rect x="294" y="741" width="5" height="1"/><rect x="305" y="741" width="5" height="1"/><rect x="316" y="741" width="5" height="1"/><rect x="327" y="741" width="5" height="1"/><rect x="338" y="741" width="5" height="1"/><rect x="349" y="741" width="5" height="1"/><rect x="360" y="741" width="5" height="1"/><rect x="371" y="741" width="5" height="1"/><rect x="382" y="741" width="5" height="1"/><rect x="393" y="741" width="5" height="1"/><rect x="404" y="741" width="5" height="1"/><rect x="415" y="741" width="5" height="1"/><rect x="426" y="741" width="5" height="1"/><rect x="437" y="741" width="5" height="1"/><rect x="448" y="741" width="5" height="1"/><rect x="459" y="741" width="5" height="1"/><rect x="470" y="741" width="5" height="1"/><rect x="481" y="741" width="5" height="1"/><rect x="492" y="741" width="5" height="1"/><rect x="503" y="741" width="5" height="1"/><rect x="514" y="741" width="5" height="1"/><rect x="525" y="741" width="5" height="1"/><rect x="536" y="741" width="5" height="1"/><rect x="547" y="741" width="5" height="1"/><rect x="558" y="741" width="5" height="1"/><rect x="569" y="741" width="5" height="1"/><rect x="580" y="741" width="5" height="1"/><rect x="591" y="741" width="5" height="1"/><rect x="602" y="741" width="5" height="1"/><rect x="613" y="741" width="5" height="1"/><rect x="624" y="741" width="5" height="1"/><rect x="635" y="741" width="5" height="1"/><rect x="646" y="741" width="5" height="1"/><rect x="657" y="741" width="5" height="1"/><rect x="668" y="741" width="5" height="1"/><rect x="679" y="741" width="5" height="1"/><rect x="690" y="741" width="5" height="1"/><rect x="701" y="741" width="5" height="1"/><rect x="712" y="741" width="5" height="1"/><rect x="723" y="741" width="5" height="1"/><rect x="734" y="741" width="5" height="1"/><rect x="745" y="741" width="5" height="1"/><rect x="756" y="741" width="5" height="1"/><rect x="767" y="741" width="5" height="1"/><rect x="778" y="741" width="5" height="1"/><rect x="789" y="741" width="5" height="1"/><rect x="800" y="741" width="5" height="1"/><rect x="811" y="741" width="5" height="1"/><rect x="822" y="741" width="5" height="1"/><rect x="833" y="741" width="5" height="1"/><rect x="844" y="741" width="5" height="1"/><rect x="855" y="741" width="5" height="1"/><rect x="866" y="741" width="5" height="1"/><rect x="877" y="741" width="5" height="1"/><rect x="888" y="741" width="5" height="1"/><rect x="899" y="741" width="5" height="1"/><rect x="910" y="741" width="5" height="1"/><rect x="921" y="741" width="5" height="1"/><rect x="932" y="741" width="5" height="1"/><rect x="943" y="741" width="5" height="1"/><rect x="954" y="741" width="5" height="1"/><rect x="965" y="741" width="5" height="1"/><rect x="976" y="741" width="5" height="1"/><rect x="987" y="741" width="5" height="1"/><rect x="998" y="741" width="5" height="1"/><rect x="1009" y="741" width="5" height="1"/><rect x="1020" y="741" width="5" height="1"/><rect x="1031" y="741" width="5" height="1"/><rect x="1042" y="741" width="5" height="1"/><rect x="1053" y="741" width="5" height="1"/><rect x="1064" y="741" width="5" height="1"/><rect x="1075" y="741" width="5" height="1"/><rect x="1086" y="741" width="5" height="1"/><rect x="1097" y="741" width="5" height="1"/><rect x="1108" y="741" width="5" height="1"/><rect x="1119" y="741" width="5" height="1"/><rect x="1130" y="741" width="5" height="1"/><rect x="1141" y="741" width="5" height="1"/><rect x="1152" y="741" width="5" height="1"/><rect x="1163" y="741" width="5" height="1"/><rect x="1174" y="741" width="5" height="1"/><rect x="1185" y="741" width="5" height="1"/><rect x="1196" y="741" width="5" height="1"/><rect x="1207" y="741" width="5" height="1"/><rect x="1218" y="741" width="5" height="1"/><rect x="1229" y="741" width="5" height="1"/><rect x="1240" y="741" width="5" height="1"/><rect x="1251" y="741" width="5" height="1"/><rect x="1262" y="741" width="5" height="1"/><rect x="1273" y="741" width="5" height="1"/><rect x="1284" y="741" width="5" height="1"/><rect x="1295" y="741" width="5" height="1"/><rect x="1306" y="741" width="5" height="1"/><rect x="1317" y="741" width="5" height="1"/><rect x="1328" y="741" width="5" height="1"/><rect x="1339" y="741" width="5" height="1"/><rect x="1350" y="741" width="5" height="1"/><rect x="1361" y="741" width="5" height="1"/><rect x="1372" y="741" width="5" height="1"/><rect x="1383" y="741" width="5" height="1"/><rect x="1394" y="741" width="5" height="1"/><rect x="1405" y="741" width="5" height="1"/><rect x="1416" y="741" width="5" height="1"/><rect x="1427" y="741" width="5" height="1"/></g>
<!-- frame -->
<g fill="#4f4f4f">
<rect x="7" y="6" width="1496" height="1"/>
<rect x="7" y="779" width="1496" height="1"/>
<rect x="7" y="6" width="1" height="774"/>
<rect x="1502" y="6" width="1" height="774"/>
<rect x="7" y="626" width="1496" height="1"/>
<rect x="7" y="748" width="1496" height="1"/>
<rect x="1436" y="6" width="1" height="46"/>
<rect x="1436" y="71" width="1" height="709"/>
</g>
<rect x="1437" y="618" width="4" height="1" fill="#4f4f4f"/><text x="1446.5" y="622.9" class="ax" textLength="45.3" lengthAdjust="spacingAndGlyphs">1.07000</text><rect x="1437" y="582" width="4" height="1" fill="#4f4f4f"/><text x="1446.5" y="586.9" class="ax" textLength="45.3" lengthAdjust="spacingAndGlyphs">1.08000</text><rect x="1437" y="546" width="4" height="1" fill="#4f4f4f"/><text x="1446.5" y="550.9" class="ax" textLength="45.3" lengthAdjust="spacingAndGlyphs">1.09000</text><rect x="1437" y="510" width="4" height="1" fill="#4f4f4f"/><text x="1446.5" y="514.9" class="ax" textLength="45.3" lengthAdjust="spacingAndGlyphs">1.10000</text><rect x="1437" y="474" width="4" height="1" fill="#4f4f4f"/><text x="1446.5" y="478.9" class="ax" textLength="45.3" lengthAdjust="spacingAndGlyphs">1.11000</text><rect x="1437" y="438" width="4" height="1" fill="#4f4f4f"/><text x="1446.5" y="442.9" class="ax" textLength="45.3" lengthAdjust="spacingAndGlyphs">1.12000</text><rect x="1437" y="402" width="4" height="1" fill="#4f4f4f"/><text x="1446.5" y="406.9" class="ax" textLength="45.3" lengthAdjust="spacingAndGlyphs">1.13000</text><rect x="1437" y="366" width="4" height="1" fill="#4f4f4f"/><text x="1446.5" y="370.9" class="ax" textLength="45.3" lengthAdjust="spacingAndGlyphs">1.14000</text><rect x="1437" y="330" width="4" height="1" fill="#4f4f4f"/><text x="1446.5" y="334.9" class="ax" textLength="45.3" lengthAdjust="spacingAndGlyphs">1.15000</text><rect x="1437" y="294" width="4" height="1" fill="#4f4f4f"/><text x="1446.5" y="298.9" class="ax" textLength="45.3" lengthAdjust="spacingAndGlyphs">1.16000</text><rect x="1437" y="258" width="4" height="1" fill="#4f4f4f"/><text x="1446.5" y="262.9" class="ax" textLength="45.3" lengthAdjust="spacingAndGlyphs">1.17000</text><rect x="1437" y="222" width="4" height="1" fill="#4f4f4f"/><text x="1446.5" y="226.9" class="ax" textLength="45.3" lengthAdjust="spacingAndGlyphs">1.18000</text><rect x="1437" y="186" width="4" height="1" fill="#4f4f4f"/><text x="1446.5" y="190.9" class="ax" textLength="45.3" lengthAdjust="spacingAndGlyphs">1.19000</text><rect x="1437" y="150" width="4" height="1" fill="#4f4f4f"/><text x="1446.5" y="154.9" class="ax" textLength="45.3" lengthAdjust="spacingAndGlyphs">1.20000</text><rect x="1437" y="114" width="4" height="1" fill="#4f4f4f"/><text x="1446.5" y="118.9" class="ax" textLength="45.3" lengthAdjust="spacingAndGlyphs">1.21000</text><rect x="1437" y="78" width="4" height="1" fill="#4f4f4f"/><text x="1446.5" y="82.9" class="ax" textLength="45.3" lengthAdjust="spacingAndGlyphs">1.22000</text><rect x="1437" y="42" width="4" height="1" fill="#4f4f4f"/><text x="1446.5" y="46.9" class="ax" textLength="45.3" lengthAdjust="spacingAndGlyphs">1.23000</text><rect x="1437" y="636" width="4" height="1" fill="#4f4f4f"/><text x="1446.5" y="640.6" class="ax" textLength="31.6" lengthAdjust="spacingAndGlyphs">80.00</text><rect x="1437" y="678" width="4" height="1" fill="#4f4f4f"/><text x="1446.5" y="682.6" class="ax" textLength="31.6" lengthAdjust="spacingAndGlyphs">60.00</text><rect x="1437" y="720" width="4" height="1" fill="#4f4f4f"/><text x="1446.5" y="724.6" class="ax" textLength="31.6" lengthAdjust="spacingAndGlyphs">40.00</text><rect x="33" y="749" width="1" height="3" fill="#4f4f4f"/><text x="21.2" y="769.8" class="tm" textLength="22.9" lengthAdjust="spacingAndGlyphs">May</text><rect x="191" y="749" width="1" height="3" fill="#4f4f4f"/><text x="181.8" y="769.8" class="tm" textLength="19.9" lengthAdjust="spacingAndGlyphs">Jun</text><rect x="358" y="749" width="1" height="3" fill="#4f4f4f"/><text x="349.1" y="769.8" class="tm" textLength="17" lengthAdjust="spacingAndGlyphs">Jul</text><rect x="532" y="749" width="1" height="3" fill="#4f4f4f"/><text x="521.1" y="769.8" class="tm" textLength="21.2" lengthAdjust="spacingAndGlyphs">Aug</text><rect x="690" y="749" width="1" height="3" fill="#4f4f4f"/><text x="680" y="769.8" class="tm" textLength="20.3" lengthAdjust="spacingAndGlyphs">Sep</text><rect x="856" y="749" width="1" height="3" fill="#4f4f4f"/><text x="846.4" y="769.8" class="tm" textLength="20" lengthAdjust="spacingAndGlyphs">Oct</text><rect x="1023" y="749" width="1" height="3" fill="#4f4f4f"/><text x="1012.5" y="769.8" class="tm" textLength="21.3" lengthAdjust="spacingAndGlyphs">Nov</text><rect x="1181" y="749" width="1" height="3" fill="#4f4f4f"/><text x="1170.9" y="769.8" class="tm" textLength="21.2" lengthAdjust="spacingAndGlyphs">Dec</text><rect x="1348" y="749" width="1" height="3" fill="#4f4f4f"/><text x="1332.8" y="769.8" class="tmb" textLength="29.4" lengthAdjust="spacingAndGlyphs">2021</text>
<rect x="1437" y="61" width="3" height="1" fill="#222"/>
<text x="1445.8" y="65.7" style="font-size:12px;fill:#1e1e1e" textLength="45.3" lengthAdjust="spacingAndGlyphs">1.22460</text>
<rect x="1453.5" y="14.5" width="31" height="20" rx="3.5" ry="3.5" fill="#fff" stroke="#d3d6e0" stroke-width="1" shape-rendering="geometricPrecision"/>
<text x="1457.8" y="27.8" style="font-size:12px;fill:#555" textLength="22.6" lengthAdjust="spacingAndGlyphs">USD</text>
<text x="17.7" y="29.9" style="font-size:12px;fill:#444;stroke:#444;stroke-width:0.45;font-weight:normal" textLength="128.3" lengthAdjust="spacingAndGlyphs">Euro / U.S. Dollar, 1D</text>
<text x="17.7" y="48.7" class="lg" textLength="93.1" lengthAdjust="spacingAndGlyphs">EMA (21, close)</text>
<text x="17.7" y="67.6" class="lg" textLength="93.1" lengthAdjust="spacingAndGlyphs">EMA (50, close)</text>
<text x="17.2" y="649.8" class="lg" textLength="84" lengthAdjust="spacingAndGlyphs">RSI (14, close)</text>
</svg>
</body></html>
